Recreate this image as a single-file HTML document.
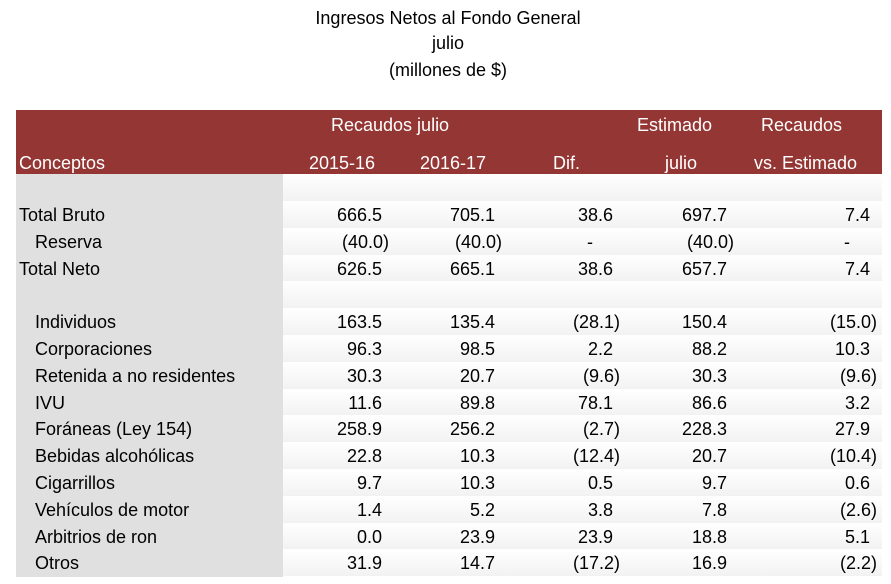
<!DOCTYPE html>
<html><head><meta charset="utf-8">
<style>
body{margin:0;width:891px;height:584px;background:#fff;font-family:"Liberation Sans",Arial,sans-serif;position:relative;overflow:hidden;color:#000}
.t{position:absolute;white-space:nowrap;font-size:18px;line-height:20px}
.title{left:0;width:896px;text-align:center;font-size:18px}
#hdr{position:absolute;left:16px;top:110px;width:866px;height:64px;background:#943634}
#grey{position:absolute;left:16px;top:174px;width:267px;height:403px;background:#e0e0e0}
.w{color:#fff}
.r{text-align:right}
.stripe{position:absolute;left:283px;width:599px;background:linear-gradient(#ffffff,#f2f2f2)}
</style></head>
<body>
<div class="t title" style="top:8px">Ingresos Netos al Fondo General</div>
<div class="t title" style="top:33px">julio</div>
<div class="t title" style="top:60px">(millones de $)</div>
<div id="hdr"></div>
<div id="grey"></div>
<div class="t w" style="left:331px;top:115px">Recaudos julio</div>
<div class="t w" style="left:637px;top:115px">Estimado</div>
<div class="t w" style="left:761px;top:115px">Recaudos</div>
<div class="t w" style="left:19px;top:153px">Conceptos</div>
<div class="t w" style="left:309px;top:153px">2015-16</div>
<div class="t w" style="left:420px;top:153px">2016-17</div>
<div class="t w" style="left:553px;top:153px">Dif.</div>
<div class="t w" style="left:665px;top:153px">julio</div>
<div class="t w" style="left:754px;top:153px">vs. Estimado</div>
<div id="rows"></div>
<script>
const labels=["","Total Bruto","Reserva","Total Neto","","Individuos","Corporaciones","Retenida a no residentes","IVU","Foráneas (Ley 154)","Bebidas alcohólicas","Cigarrillos","Vehículos de motor","Arbitrios de ron","Otros"];
const indent=[0,0,1,0,0,1,1,1,1,1,1,1,1,1,1];
const col2015=["","666.5","(40.0)","626.5","","163.5","96.3","30.3","11.6","258.9","22.8","9.7","1.4","0.0","31.9"];
const col2016=["","705.1","(40.0)","665.1","","135.4","98.5","20.7","89.8","256.2","10.3","10.3","5.2","23.9","14.7"];
const colDif=["","38.6","-","38.6","","(28.1)","2.2","(9.6)","78.1","(2.7)","(12.4)","0.5","3.8","23.9","(17.2)"];
const colEst=["","697.7","(40.0)","657.7","","150.4","88.2","30.3","86.6","228.3","20.7","9.7","7.8","18.8","16.9"];
const colVs=["","7.4","-","7.4","","(15.0)","10.3","(9.6)","3.2","27.9","(10.4)","0.6","(2.6)","5.1","(2.2)"];
const cols=[col2015,col2016,colDif,colEst,colVs];
const colRight=[382,495,613,727,870];
const root=document.getElementById('rows');
const rowH=26.8, top0=201-rowH;
labels.forEach((lab,i)=>{
  const y=top0+i*rowH;
  const s=document.createElement('div');
  s.className='stripe';
  s.style.top=(i===0?174:y)+'px';
  s.style.height=(i===0?y+rowH-174:rowH)+'px';
  
  
  root.appendChild(s);
  if(lab){
    const d=document.createElement('div');
    d.className='t';
    d.style.left=(indent[i]?35:19)+'px';
    d.style.top=(y+4)+'px';
    d.textContent=lab;
    
    
    root.appendChild(d);
  }
  cols.forEach((c,j)=>{
    const v=c[i]; if(!v) return;
    let right=colRight[j];
    if(v[0]==='(') right+=7; else if(v==='-') right-=20;
    const d=document.createElement('div');
    d.className='t r';
    d.style.left=(right-100)+'px';
    d.style.width='100px';
    d.style.top=(y+4)+'px';
    d.textContent=v;
    
    
    root.appendChild(d);
  });
});
</script>
</body></html>
